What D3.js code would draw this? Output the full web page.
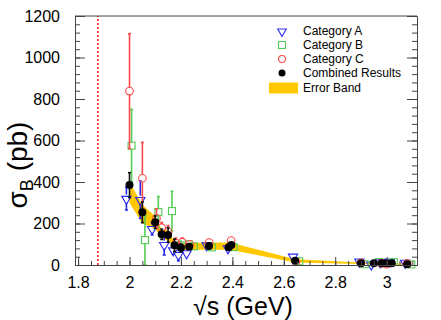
<!DOCTYPE html>
<html>
<head>
<meta charset="utf-8">
<script src="https://cdn.jsdelivr.net/npm/d3@7"></script>
<style>
  body { margin: 0; background: white; }
  svg { font-family: "Liberation Sans", Arial, sans-serif; }
</style>
</head>
<body>
<svg id="plotSVG" width="441" height="320"></svg>
<script>
// Category A (x, y, err)
let catA_x   = [1.988, 2.042, 2.088, 2.135, 2.170, 2.190, 2.222, 2.300, 2.383, 2.636, 2.894, 2.940, 2.975, 3.012, 3.072];
let catA_y   = [320, 315, 175, 98, 72, 50, 58, 96, 82, 42, 18, 4, 14, 18, 12];
let catA_err = [55, 90, 30, 50, 20, 30, 15, 12, 15, 5, 5, 4, 4, 5, 5];

// Category B
let catB_x   = [2.008, 2.060, 2.112, 2.165, 2.198, 2.230, 2.250, 2.320, 2.405, 2.660, 2.915, 2.970, 3.028, 3.096];
let catB_y   = [575, 120, 255, 260, 95, 100, 90, 85, 86, 18, 4, 14, 14, 3];
let catB_err = [175, 120, 75, 95, 20, 15, 15, 12, 12, 5, 3, 4, 4, 3];

// Category C
let catC_x   = [2.000, 2.050, 2.105, 2.125, 2.150, 2.180, 2.205, 2.235, 2.310, 2.395, 2.647, 2.900, 2.980, 3.000, 3.080];
let catC_y   = [838, 418, 225, 180, 160, 105, 110, 100, 108, 118, 15, 10, 8, 4, 8];
let catC_err = [277, 173, 45, 25, 30, 25, 20, 15, 12, 12, 5, 4, 4, 4, 4];

// Combined results
let comb_x   = [2.000, 2.050, 2.100, 2.125, 2.150, 2.175, 2.200, 2.232, 2.309, 2.386, 2.396, 2.644, 2.900, 2.950, 2.981, 3.000, 3.020, 3.080];
let comb_y   = [385, 254, 206, 148, 145, 95, 83, 88, 92, 86, 96, 20, 8, 8, 8, 8, 8, 4];
let comb_err = [60, 50, 30, 25, 35, 30, 20, 15, 12, 12, 12, 5, 3, 3, 3, 3, 3, 3];

// Error band (lower / upper edge)
let band_x  = [2.000, 2.050, 2.100, 2.125, 2.150, 2.175, 2.200, 2.232, 2.310, 2.390, 2.645, 2.900, 3.000, 3.080];
let band_lo = [300, 200, 175, 128, 118, 78, 70, 72, 74, 74, 12, 5, 3, 1];
let band_hi = [400, 290, 235, 172, 168, 112, 104, 106, 108, 108, 28, 12, 9, 7];

let xMajor = [1.8, 2.0, 2.2, 2.4, 2.6, 2.8, 3.0];
let yMajor = [0, 200, 400, 600, 800, 1000, 1200];
let threshold = 1.877;

let legendLabels = ["Category A", "Category B", "Category C", "Combined Results", "Error Band"];

let colA = "#2a2aee", colB = "#55cc55", colC = "#ff4a4a", colBand = "#ffc800";

let svg = d3.select("#plotSVG");

let xScale = d3.scaleLinear().domain([1.788, 3.118]).range([75, 417]);
let yScale = d3.scaleLinear().domain([0, 1200]).range([265, 16]);

let xMinor = d3.range(1.80, 3.101, 0.05).map(v => +v.toFixed(2));
let yMinor = d3.range(0, 1201, 40);

// error band
let bandData = band_x.map((x, i) => ({x: x, lo: band_lo[i], hi: band_hi[i]}));
svg.append("path")
  .datum(bandData)
  .attr("fill", colBand)
  .attr("d", d3.area().x(d => xScale(d.x)).y0(d => yScale(d.lo)).y1(d => yScale(d.hi)));

// threshold line
svg.append("line")
  .attr("x1", xScale(threshold)).attr("x2", xScale(threshold))
  .attr("y1", yScale(0)).attr("y2", yScale(1200))
  .attr("stroke", "#ff2020")
  .attr("stroke-width", 1.6)
  .attr("stroke-dasharray", "2,2");

// helper: error bars with gap around the marker
function drawBars(xs, ys, es, color, gap, cls) {
  let data = xs.map((x, i) => ({x: x, y: ys[i], e: es[i]}));
  let g = svg.append("g").attr("class", cls);
  data.forEach(d => {
    let cx = xScale(d.x), cy = yScale(d.y);
    let top = yScale(d.y + d.e), bot = Math.min(yScale(Math.max(d.y - d.e, 0)), 265);
    if (cy - gap > top) {
      g.append("line").attr("x1", cx).attr("x2", cx).attr("y1", top).attr("y2", cy - gap)
        .attr("stroke", color).attr("stroke-width", 1.6);
      g.append("line").attr("x1", cx - 1.5).attr("x2", cx + 1.5).attr("y1", top).attr("y2", top)
        .attr("stroke", color).attr("stroke-width", 1.6);
    }
    if (bot > cy + gap) {
      g.append("line").attr("x1", cx).attr("x2", cx).attr("y1", cy + gap).attr("y2", bot)
        .attr("stroke", color).attr("stroke-width", 1.6);
      g.append("line").attr("x1", cx - 1.5).attr("x2", cx + 1.5).attr("y1", bot).attr("y2", bot)
        .attr("stroke", color).attr("stroke-width", 1.6);
    }
  });
  return data;
}

let triDown = d3.symbol().type(d3.symbolTriangle).size(38);

// Category A
let dataA = drawBars(catA_x, catA_y, catA_err, colA, 4, "barsA");
svg.selectAll(".markA")
  .data(dataA)
  .join("path")
  .attr("class", "markA")
  .attr("d", triDown)
  .attr("transform", d => "translate(" + xScale(d.x) + "," + (yScale(d.y) + 0.5) + ") rotate(180)")
  .attr("fill", "none")
  .attr("stroke", colA)
  .attr("stroke-width", 1.1);

// Category B
let dataB = drawBars(catB_x, catB_y, catB_err, colB, 3.5, "barsB");
svg.selectAll(".markB")
  .data(dataB)
  .join("rect")
  .attr("class", "markB")
  .attr("x", d => xScale(d.x) - 3.5)
  .attr("y", d => yScale(d.y) - 3.5)
  .attr("width", 7).attr("height", 7)
  .attr("fill", "none")
  .attr("stroke", colB)
  .attr("stroke-width", 1.1);

// Category C
let dataC = drawBars(catC_x, catC_y, catC_err, colC, 3.8, "barsC");
svg.selectAll(".markC")
  .data(dataC)
  .join("circle")
  .attr("class", "markC")
  .attr("cx", d => xScale(d.x))
  .attr("cy", d => yScale(d.y))
  .attr("r", 3.8)
  .attr("fill", "none")
  .attr("stroke", colC)
  .attr("stroke-width", 1.1);

// Combined
let dataK = drawBars(comb_x, comb_y, comb_err, "#111", 3.5, "barsK");
svg.selectAll(".markK")
  .data(dataK)
  .join("circle")
  .attr("class", "markK")
  .attr("cx", d => xScale(d.x))
  .attr("cy", d => yScale(d.y))
  .attr("r", 4)
  .attr("fill", "black");

// axes (ticks pointing inward, ROOT style)
let axisCol = "#444";
function styleAxis(g) {
  g.select(".domain").attr("stroke", axisCol);
  g.selectAll(".tick line").attr("stroke", axisCol);
}

svg.append("g").attr("transform", "translate(0,265)")
  .call(d3.axisBottom(xScale).tickValues(xMinor).tickSize(-4).tickFormat("").tickSizeOuter(0))
  .call(styleAxis);
svg.append("g").attr("transform", "translate(0,265)")
  .call(d3.axisBottom(xScale).tickValues(xMajor).tickSize(-8).tickPadding(12).tickFormat(d3.format(".1~f")).tickSizeOuter(0))
  .call(styleAxis)
  .call(g => g.selectAll("text").attr("font-size", 16).attr("fill", "black").attr("font-family", "Liberation Sans, Arial, sans-serif"));

svg.append("g").attr("transform", "translate(75,0)")
  .call(d3.axisLeft(yScale).tickValues(yMinor).tickSize(-5).tickFormat("").tickSizeOuter(0))
  .call(styleAxis);
svg.append("g").attr("transform", "translate(75,0)")
  .call(d3.axisLeft(yScale).tickValues(yMajor).tickSize(-10).tickPadding(15).tickFormat(d3.format("d")).tickSizeOuter(0))
  .call(styleAxis)
  .call(g => g.selectAll("text").attr("font-size", 16).attr("fill", "black").attr("font-family", "Liberation Sans, Arial, sans-serif"));

svg.append("g").attr("transform", "translate(417,0)")
  .call(d3.axisRight(yScale).tickValues(yMinor).tickSize(-5).tickFormat("").tickSizeOuter(0))
  .call(styleAxis);
svg.append("g").attr("transform", "translate(417,0)")
  .call(d3.axisRight(yScale).tickValues(yMajor).tickSize(-10).tickFormat("").tickSizeOuter(0))
  .call(styleAxis);

// top frame line
svg.append("line")
  .attr("x1", 75).attr("x2", 417).attr("y1", 16).attr("y2", 16)
  .attr("stroke", axisCol);

// axis titles
svg.append("text")
  .attr("x", 243).attr("y", 315)
  .attr("text-anchor", "middle")
  .attr("font-size", 25)
  .text("√s (GeV)");

let yTitle = svg.append("text")
  .attr("transform", "translate(27,165) rotate(-90)")
  .attr("text-anchor", "middle")
  .attr("font-size", 28);
yTitle.append("tspan").text("σ");
yTitle.append("tspan").attr("font-size", 18).attr("dy", 6).text("B");
yTitle.append("tspan").attr("dy", -6).text(" (pb)");

// legend
let legY = [31, 45, 59, 73, 88];
let leg = svg.append("g");
leg.selectAll("text")
  .data(legendLabels)
  .join("text")
  .attr("x", 303)
  .attr("y", (d, i) => legY[i])
  .attr("dy", "0.35em")
  .attr("font-size", 12)
  .text(d => d);

leg.append("path").attr("d", d3.symbol().type(d3.symbolTriangle).size(32))
  .attr("transform", "translate(282," + (legY[0] + 0.5) + ") rotate(180)")
  .attr("fill", "none").attr("stroke", colA).attr("stroke-width", 1.1);
leg.append("rect").attr("x", 278.5).attr("y", legY[1] - 3.5).attr("width", 7).attr("height", 7)
  .attr("fill", "none").attr("stroke", colB).attr("stroke-width", 1.1);
leg.append("circle").attr("cx", 282).attr("cy", legY[2]).attr("r", 3.5)
  .attr("fill", "none").attr("stroke", colC).attr("stroke-width", 1.1);
leg.append("circle").attr("cx", 282).attr("cy", legY[3]).attr("r", 3.5).attr("fill", "black");
leg.append("rect").attr("x", 269).attr("y", legY[4] - 5.5).attr("width", 29).attr("height", 11)
  .attr("fill", colBand);
</script>
</body>
</html>
